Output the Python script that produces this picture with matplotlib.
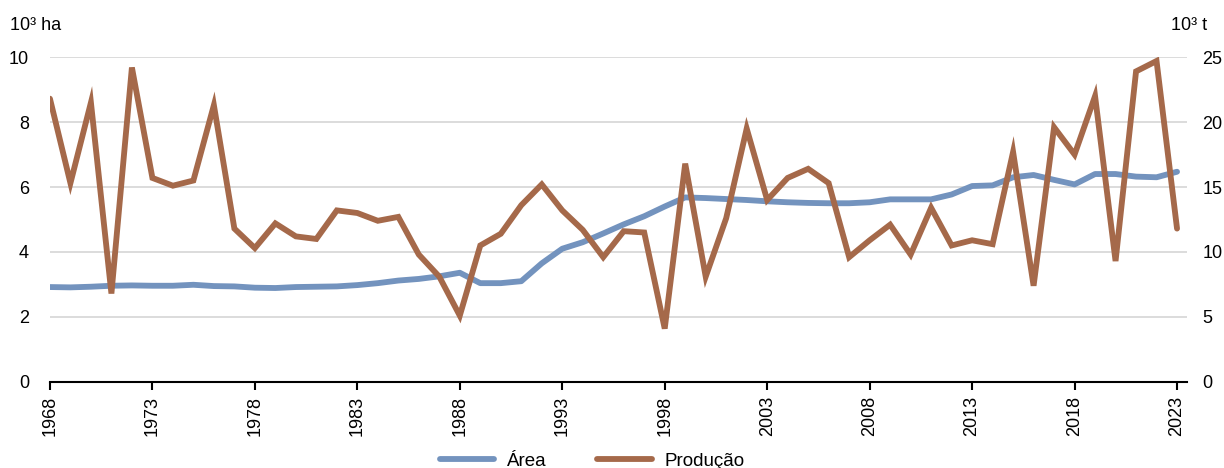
import matplotlib.pyplot as plt
from matplotlib.lines import Line2D

years = list(range(1968, 2024))

# area (10^3 ha), left axis
area = [2.92, 2.91, 2.93, 2.96, 2.97, 2.96, 2.96, 2.99, 2.95, 2.94,
        2.90, 2.89, 2.92, 2.93, 2.94, 2.98, 3.04, 3.12, 3.17, 3.25,
        3.36, 3.04, 3.04, 3.10, 3.65, 4.10, 4.30, 4.57, 4.85, 5.10,
        5.40, 5.68, 5.66, 5.63, 5.60, 5.56, 5.53, 5.51, 5.50, 5.50,
        5.53, 5.62, 5.62, 5.62, 5.77, 6.03, 6.05, 6.30, 6.37, 6.22,
        6.08, 6.40, 6.40, 6.32, 6.30, 6.47]

# production (10^3 t), right axis
producao = [21.8, 15.3, 21.5, 6.8, 24.2, 15.7, 15.1, 15.5, 21.3, 11.8,
            10.3, 12.2, 11.2, 11.0, 13.2, 13.0, 12.4, 12.7, 9.8, 8.1,
            5.1, 10.5, 11.4, 13.6, 15.2, 13.2, 11.7, 9.6, 11.6, 11.5,
            4.1, 16.8, 8.1, 12.6, 19.5, 14.0, 15.7, 16.4, 15.3, 9.6,
            10.9, 12.1, 9.8, 13.4, 10.5, 10.9, 10.6, 17.7, 7.4, 19.6,
            17.5, 22.0, 9.3, 23.9, 24.7, 11.8]

tick_years = list(range(1968, 2024, 5))

plt.rcParams['font.family'] = ['Liberation Sans', 'DejaVu Sans']
fs = 13

blue = '#7393BE'
brown = '#A5694A'

fig = plt.figure(figsize=(12.24, 4.68), dpi=100)
ax = fig.add_axes([0.0408, 0.184, 0.9292, 0.694])
ax2 = ax.twinx()

ax.plot(years, area, color=blue, lw=4.2, solid_capstyle='round', zorder=3)
ax2.plot(years, producao, color=brown, lw=4.2, solid_capstyle='round',
         solid_joinstyle='miter', zorder=3)

ax.set_xlim(1968, 2023.5)
ax.set_ylim(0, 10)
ax2.set_ylim(0, 25)
ax.set_yticks([0, 2, 4, 6, 8, 10])
ax2.set_yticks([0, 5, 10, 15, 20, 25])
ax.set_xticks(tick_years)
ax.set_xticklabels([str(y) for y in tick_years], rotation=90)

ax.grid(axis='y', color='#d9d9d9', lw=1.3)
ax.set_axisbelow(True)

for a in (ax, ax2):
    for s in ('top', 'left', 'right', 'bottom'):
        a.spines[s].set_visible(False)
ax.spines['bottom'].set_visible(True)
ax.spines['bottom'].set_linewidth(1.5)
ax.spines['bottom'].set_color('black')

ax.tick_params(axis='x', length=6, width=1.5, labelsize=fs, pad=4)
ax.tick_params(axis='y', length=0, labelsize=fs, pad=15)
ax2.tick_params(axis='y', length=0, labelsize=fs, pad=11)

fig.text(0.008, 0.945, '10³ ha', fontsize=fs, va='center', ha='left')
fig.text(0.957, 0.945, '10³ t', fontsize=fs, va='center', ha='left')

handles = [Line2D([], [], color=blue, lw=4.2, solid_capstyle='round'),
           Line2D([], [], color=brown, lw=4.2, solid_capstyle='round')]
fig.legend(handles, ['Área', 'Produção'], loc='lower center',
           bbox_to_anchor=(0.484, -0.04), ncol=2, frameon=False,
           fontsize=13.5, handlelength=2.9, handletextpad=0.7,
           columnspacing=2.7)

fig.savefig('out.png', dpi=100)
